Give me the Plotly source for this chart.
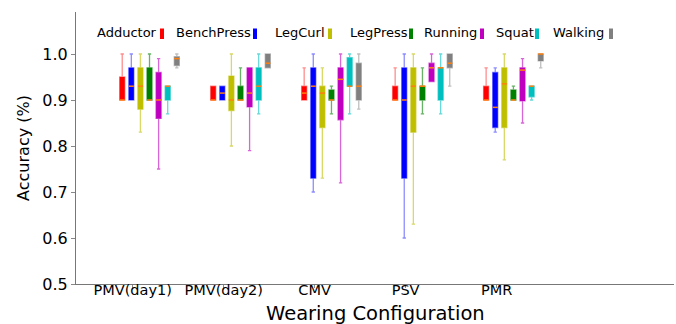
import plotly.graph_objects as go

configs = ["PMV(day1)", "PMV(day2)", "CMV", "PSV", "PMR"]
activities = ["Adductor", "BenchPress", "LegCurl", "LegPress", "Running", "Squat", "Walking"]
colors = ["#ff0000", "#0000ff", "#bfbf00", "#008000", "#bf00bf", "#00bfbf", "#808080"]
edge_rgba = ["rgba(255,0,0,0.45)", "rgba(0,0,255,0.45)", "rgba(191,191,0,0.6)",
             "rgba(0,128,0,0.6)", "rgba(191,0,191,0.6)", "rgba(0,191,191,0.6)",
             "rgba(128,128,128,0.5)"]

# rows: activities, columns: configs
lower = [
    [0.90, 0.90, 0.90, 0.90, 0.90],
    [0.90, 0.90, 0.70, 0.60, 0.83],
    [0.83, 0.80, 0.73, 0.63, 0.77],
    [0.90, 0.90, 0.87, 0.87, 0.90],
    [0.75, 0.79, 0.72, 0.94, 0.85],
    [0.87, 0.87, 0.87, 0.87, 0.90],
    [0.97, 0.97, 0.88, 0.93, 0.97],
]
q1 = [
    [0.90, 0.90, 0.90, 0.90, 0.90],
    [0.90, 0.90, 0.73, 0.73, 0.84],
    [0.88, 0.877, 0.84, 0.83, 0.84],
    [0.90, 0.90, 0.90, 0.90, 0.90],
    [0.86, 0.885, 0.857, 0.94, 0.898],
    [0.90, 0.90, 0.93, 0.90, 0.907],
    [0.975, 0.97, 0.90, 0.97, 0.985],
]
median = [
    [0.90, 0.90, 0.915, 0.90, 0.90],
    [0.93, 0.915, 0.93, 0.90, 0.884],
    [0.93, 0.90, 0.915, 0.93, 0.935],
    [0.90, 0.90, 0.90, 0.93, 0.90],
    [0.90, 0.915, 0.945, 0.97, 0.965],
    [0.93, 0.93, 0.93, 0.97, 0.93],
    [0.99, 0.98, 0.93, 0.98, 1.00],
]
q3 = [
    [0.95, 0.93, 0.93, 0.93, 0.93],
    [0.97, 0.93, 0.97, 0.97, 0.96],
    [0.97, 0.952, 0.93, 0.97, 0.97],
    [0.97, 0.93, 0.922, 0.93, 0.922],
    [0.96, 0.97, 0.97, 0.98, 0.97],
    [0.93, 0.97, 0.992, 0.97, 0.93],
    [0.994, 1.00, 0.98, 1.00, 1.00],
]
upper = [
    [1.00, 0.93, 0.97, 0.97, 0.97],
    [1.00, 0.93, 1.00, 1.00, 0.97],
    [1.00, 1.00, 0.97, 1.00, 1.00],
    [1.00, 0.97, 0.93, 0.97, 0.93],
    [0.99, 0.97, 1.00, 1.00, 0.99],
    [0.93, 1.00, 1.00, 1.00, 0.93],
    [1.00, 1.00, 1.00, 1.00, 1.00],
]

offsets = [-0.115, -0.015, 0.085, 0.185, 0.285, 0.385, 0.485]
box_w = 0.056

fig = go.Figure()
for a, name in enumerate(activities):
    xs = [i + 1 + offsets[a] for i in range(len(configs))]
    fig.add_trace(go.Box(
        x=xs, q1=q1[a], median=median[a], q3=q3[a],
        lowerfence=lower[a], upperfence=upper[a],
        width=box_w, whiskerwidth=0.65,
        fillcolor=colors[a], line=dict(color=edge_rgba[a], width=1.3),
        name=name, showlegend=False, hoverinfo="skip",
    ))
for a, name in enumerate(activities):
    mx, my = [], []
    for i in range(len(configs)):
        c = i + 1 + offsets[a]
        mx += [c - box_w / 2, c + box_w / 2, None]
        my += [median[a][i], median[a][i], None]
    fig.add_trace(go.Scatter(x=mx, y=my, mode="lines",
                             line=dict(color="#ff7f0e", width=1.5),
                             showlegend=False, hoverinfo="skip"))

# legend drawn as text followed by a colored bar
W, H, L, B = 676, 324, 76, 40
pw, ph = W - L - 2, H - B - 12
legend_text_x = [95, 174, 273, 348, 422, 494, 551]
legend_bar_x = [160, 253, 328, 409, 480, 535, 609]
for a, name in enumerate(activities):
    fig.add_annotation(x=(legend_text_x[a] - L) / pw, y=(H - B - 33) / ph,
                       xref="paper", yref="paper", xanchor="left", yanchor="middle",
                       text=name, showarrow=False,
                       font=dict(family="DejaVu Sans", size=13, color="#000"))
    fig.add_shape(type="rect", xref="paper", yref="paper",
                  x0=(legend_bar_x[a] - L) / pw, x1=(legend_bar_x[a] + 4 - L) / pw,
                  y0=(H - B - 39) / ph, y1=(H - B - 28.5) / ph,
                  fillcolor=colors[a], line=dict(width=0))

# x-axis title placed under the tick labels
fig.add_annotation(x=0.5, y=-(313 - (H - B)) / ph, xref="paper", yref="paper",
                   xanchor="center", yanchor="middle", text="Wearing Configuration",
                   showarrow=False, font=dict(family="DejaVu Sans", size=19.5, color="#000"))

fig.update_layout(
    width=W, height=H,
    margin=dict(l=L, r=2, t=12, b=B),
    plot_bgcolor="white", paper_bgcolor="white",
    font=dict(family="DejaVu Sans", color="#000"),
    boxmode="overlay",
)
fig.update_xaxes(
    range=[0.377, 6.95], tickvals=[1, 2, 3, 4, 5], ticktext=configs,
    tickfont=dict(size=14.5), ticks="outside", ticklen=3, tickcolor="#888",
    ticklabelstandoff=-10,
    showline=True, linecolor="#777", linewidth=1, showgrid=False, zeroline=False,
    automargin=False,
)
fig.update_yaxes(
    range=[0.5, 1.0913], tickvals=[0.5, 0.6, 0.7, 0.8, 0.9, 1.0],
    ticktext=["0.5", "0.6", "0.7", "0.8", "0.9", "1.0"],
    tickfont=dict(size=16), ticks="outside", ticklen=4, tickcolor="#888",
    showline=True, linecolor="#777", linewidth=1, showgrid=False, zeroline=False,
    title=dict(text="Accuracy (%)", font=dict(size=16), standoff=8),
    automargin=False,
)

fig.write_html("out.html")
